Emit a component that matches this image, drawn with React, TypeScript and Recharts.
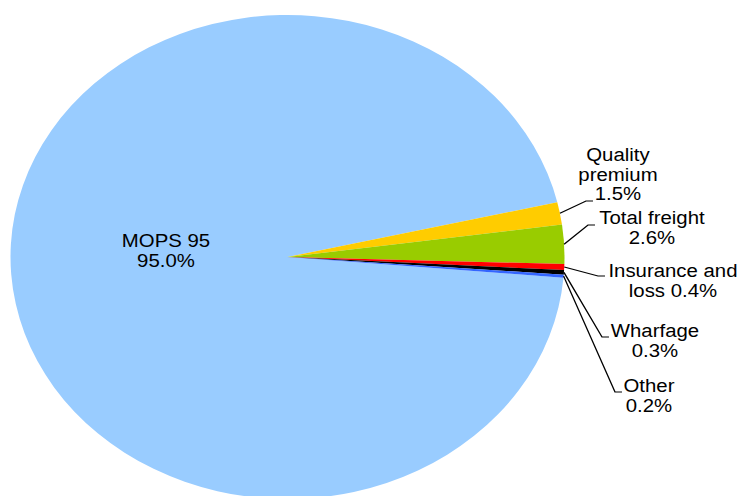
import React from "react";
import { PieChart, Pie, Cell } from "recharts";

const categories = ["MOPS 95", "Quality premium", "Total freight", "Insurance and loss", "Wharfage", "Other"];
const shares = [95.0, 1.5, 2.6, 0.4, 0.3, 0.2];
const labelLines: string[][] = [
  ["MOPS 95", "95.0%"],
  ["Quality", "premium", "1.5%"],
  ["Total freight", "2.6%"],
  ["Insurance and", "loss 0.4%"],
  ["Wharfage", "0.3%"],
  ["Other", "0.2%"],
];
const colors = ["#99CCFF", "#FFCC00", "#99CC00", "#FF0000", "#000000", "#3366FF"];

// layout of label text / leader elbows in page pixels (the picture is stretched horizontally)
const layout = [
  { tx: 166, ty: 241, ex: 0, ey: 0, leader: false },
  { tx: 618, ty: 155, ex: 586, ey: 201, leader: true },
  { tx: 652, ty: 218, ex: 588, ey: 225, leader: true },
  { tx: 673, ty: 271, ex: 598, ey: 276, leader: true },
  { tx: 655, ty: 331, ex: 602, ey: 337, leader: true },
  { tx: 649, ty: 386, ex: 615, ey: 392, leader: true },
];

const data = categories.map((name, i) => ({ name, value: shares[i] }));

const RX = 277;
const RY = 242;
const K = RX / RY;
const PAGE_W = 742;
const PAGE_H = 496;
const W = PAGE_W / K;
const CX = 287.5 / K;
const CY = 257;
const START = -4.9;
const RAD = Math.PI / 180;
const LINE_H = 19.5;
const FONT = "'Liberation Sans', Arial, sans-serif";

const renderLabel = (props: any) => {
  const { cx, cy, midAngle, outerRadius, index } = props;
  const lay = layout[index];
  const lines = labelLines[index];
  const tx = lay.tx / K;
  const texts = lines.map((t, j) => (
    <text
      key={j}
      x={tx}
      y={lay.ty + j * LINE_H}
      textAnchor="middle"
      dominantBaseline="central"
      fontFamily={FONT}
      fontSize={17.8}
      fill="#000"
    >
      {t}
    </text>
  ));
  let path = null;
  if (lay.leader) {
    const sx = cx + outerRadius * Math.cos(-midAngle * RAD);
    const sy = cy + outerRadius * Math.sin(-midAngle * RAD);
    const ex = lay.ex / K;
    const endX = (lay.ex + 7) / K;
    path = (
      <polyline
        points={`${sx},${sy} ${ex},${lay.ey} ${endX},${lay.ey}`}
        fill="none"
        stroke="#000"
        strokeWidth={1.2}
      />
    );
  }
  return (
    <g key={`lbl-${index}`}>
      {path}
      {texts}
    </g>
  );
};

export default function App() {
  return (
    <div
      style={{
        position: "absolute",
        left: 0,
        top: 0,
        width: PAGE_W,
        height: PAGE_H,
        overflow: "hidden",
        background: "#fff",
      }}
    >
      <div style={{ width: W, height: PAGE_H, transform: `scaleX(${K})`, transformOrigin: "0 0" }}>
        <PieChart width={W} height={PAGE_H} margin={{ top: 0, right: 0, bottom: 0, left: 0 }}>
          <Pie
            data={data}
            dataKey="value"
            nameKey="name"
            cx={CX}
            cy={CY}
            outerRadius={RY}
            startAngle={START}
            endAngle={START - 360}
            stroke="none"
            label={renderLabel}
            labelLine={false}
            isAnimationActive={false}
          >
            {data.map((d, i) => (
              <Cell key={d.name} fill={colors[i]} stroke="none" />
            ))}
          </Pie>
        </PieChart>
      </div>
    </div>
  );
}
